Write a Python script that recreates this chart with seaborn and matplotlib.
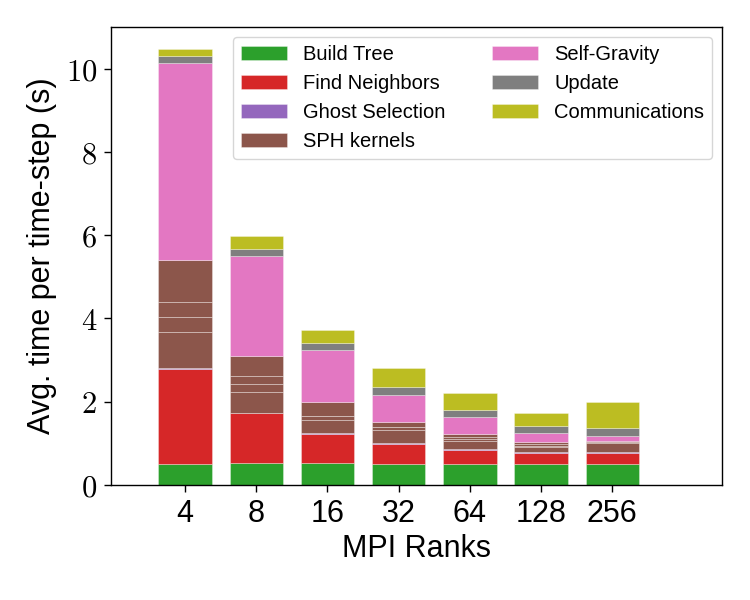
import matplotlib
matplotlib.use("Agg")
import matplotlib.pyplot as plt
import seaborn as sns
from matplotlib.ticker import FuncFormatter

# MPI ranks on the x axis
ranks = ["4", "8", "16", "32", "64", "128", "256"]

# average time per time-step (s) of each stage
build_tree = [0.50, 0.53, 0.53, 0.50, 0.50, 0.50, 0.50]
find_neighbors = [2.29, 1.19, 0.70, 0.48, 0.34, 0.27, 0.27]
ghost_selection = [0.01, 0.01, 0.02, 0.02, 0.02, 0.02, 0.03]
# the SPH kernels are drawn as four separate kernels in the same colour
sph_kernel_1 = [0.88, 0.51, 0.31, 0.31, 0.20, 0.12, 0.20]
sph_kernel_2 = [0.35, 0.19, 0.10, 0.08, 0.05, 0.03, 0.02]
sph_kernel_3 = [0.36, 0.19, 0.00, 0.00, 0.05, 0.03, 0.02]
sph_kernel_4 = [1.01, 0.48, 0.34, 0.13, 0.07, 0.07, 0.02]
self_gravity = [4.73, 2.39, 1.23, 0.64, 0.40, 0.20, 0.12]
update = [0.17, 0.18, 0.18, 0.18, 0.17, 0.18, 0.18]
communications = [0.17, 0.31, 0.32, 0.46, 0.40, 0.30, 0.63]

layers = [
    (build_tree, "tab:green", "Build Tree"),
    (find_neighbors, "tab:red", "Find Neighbors"),
    (ghost_selection, "tab:purple", "Ghost Selection"),
    (sph_kernel_1, "tab:brown", "SPH kernels"),
    (sph_kernel_2, "tab:brown", None),
    (sph_kernel_3, "tab:brown", None),
    (sph_kernel_4, "tab:brown", None),
    (self_gravity, "tab:pink", "Self-Gravity"),
    (update, "tab:gray", "Update"),
    (communications, "tab:olive", "Communications"),
]

sns.set_style("ticks", {"axes.edgecolor": "black", "xtick.color": "black",
                        "ytick.color": "black", "text.color": "black",
                        "axes.labelcolor": "black"})
plt.rcParams["font.family"] = ["Liberation Sans", "DejaVu Sans"]
plt.rcParams["mathtext.fontset"] = "cm"

fig = plt.figure(figsize=(7.5, 6), dpi=100)
ax = fig.add_axes([0.148, 0.192, 0.815, 0.763])

bottom = [0.0] * len(ranks)
for values, color, label in layers:
    sns.barplot(x=ranks, y=values, bottom=bottom, color=color, saturation=1,
                width=0.75, errorbar=None, edgecolor=(1, 1, 1, 0.45),
                linewidth=0.5, label=label, ax=ax)
    bottom = [b + v for b, v in zip(bottom, values)]

ax.set_xlim(-1.04, 7.545)
ax.set_ylim(0, 11)
ax.set_yticks([0, 2, 4, 6, 8, 10])
ax.yaxis.set_major_formatter(FuncFormatter(lambda v, p: f"${v:g}$"))
ax.tick_params(axis="both", labelsize=22, length=5, width=1, pad=5)
for s in ax.spines.values():
    s.set_linewidth(1)

ax.set_xlabel("MPI Ranks", fontsize=22, labelpad=4)
ax.set_ylabel("Avg. time per time-step (s)", fontsize=22, labelpad=6)

handles, labels = ax.get_legend_handles_labels()
ax.legend(handles, labels, ncol=2, loc="upper right", fontsize=14.5,
          handlelength=2.3, columnspacing=2.3)

fig.savefig("out.png", dpi=100)
